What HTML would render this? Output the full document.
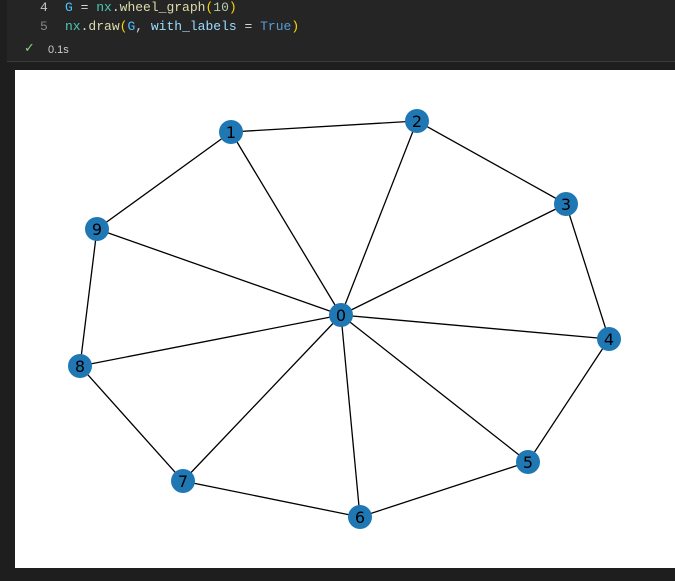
<!DOCTYPE html>
<html><head><style>
body{margin:0;width:675px;height:581px;background:#1e1e1e;overflow:hidden;position:relative;font-family:"Liberation Mono",monospace}
.cell{position:absolute;left:7px;top:0;width:668px;height:61px;background:#252526;border-bottom:1px solid #3a3a3a}
.ln{position:absolute;font-size:13px;white-space:pre}
</style></head><body>
<div class="cell"></div>
<div class="ln" style="left:40px;top:0px;color:#c6c6c6">4</div>
<div class="ln" style="left:65px;top:0px;color:#d4d4d4"><span style="color:#4fc1ff">G</span> = <span style="color:#4ec9b0">nx</span>.<span style="color:#dcdcaa">wheel_graph</span><span style="color:#ffd700">(</span><span style="color:#b5cea8">10</span><span style="color:#ffd700">)</span></div>
<div class="ln" style="left:40px;top:19px;color:#858585">5</div>
<div class="ln" style="left:65px;top:19px;color:#d4d4d4"><span style="color:#4ec9b0">nx</span>.<span style="color:#dcdcaa">draw</span><span style="color:#ffd700">(</span><span style="color:#4fc1ff">G</span>, <span style="color:#9cdcfe">with_labels</span> = <span style="color:#569cd6">True</span><span style="color:#ffd700">)</span></div>
<div style="position:absolute;left:24px;top:41px;color:#89d185;font-size:13px;font-family:'DejaVu Sans'">✓</div>
<div style="position:absolute;left:48px;top:44px;color:#cccccc;font-size:11px;font-family:'Liberation Sans'">0.1s</div>
<svg style="position:absolute;left:15px;top:70px" width="660" height="498" viewBox="15 70 660 498">
<rect x="15" y="70" width="660" height="498" fill="#fff"/>
<g stroke="#000" stroke-width="1.3">
<line x1="341" y1="315" x2="231" y2="132"/><line x1="341" y1="315" x2="417" y2="121"/><line x1="341" y1="315" x2="566" y2="204"/><line x1="341" y1="315" x2="609" y2="339"/><line x1="341" y1="315" x2="528" y2="462"/><line x1="341" y1="315" x2="360" y2="517"/><line x1="341" y1="315" x2="183" y2="481"/><line x1="341" y1="315" x2="80" y2="366"/><line x1="341" y1="315" x2="97" y2="229"/>
<polygon fill="none" points="231,132 417,121 566,204 609,339 528,462 360,517 183,481 80,366 97,229"/>
</g>
<g fill="#1f77b4"><circle cx="341" cy="315" r="12"/><circle cx="231" cy="132" r="12"/><circle cx="417" cy="121" r="12"/><circle cx="566" cy="204" r="12"/><circle cx="609" cy="339" r="12"/><circle cx="528" cy="462" r="12"/><circle cx="360" cy="517" r="12"/><circle cx="183" cy="481" r="12"/><circle cx="80" cy="366" r="12"/><circle cx="97" cy="229" r="12"/></g>
<g font-family="DejaVu Sans, sans-serif" font-size="16" text-anchor="middle" fill="#000">
<text x="341" y="321">0</text><text x="231" y="138">1</text><text x="417" y="127">2</text><text x="566" y="210">3</text><text x="609" y="345">4</text><text x="528" y="468">5</text><text x="360" y="523">6</text><text x="183" y="487">7</text><text x="80" y="372">8</text><text x="97" y="235">9</text>
</g>
</svg>
</body></html>
